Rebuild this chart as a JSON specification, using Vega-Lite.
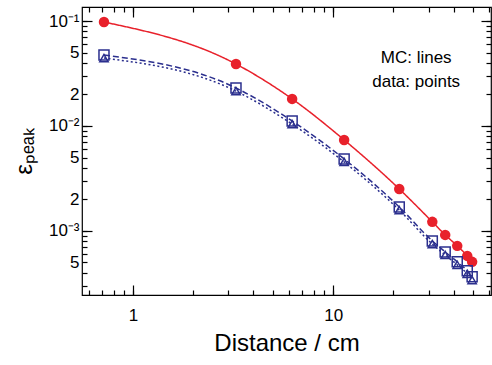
{
  "$schema": "https://vega.github.io/schema/vega-lite/v6.json",
  "width": 409,
  "height": 288,
  "autosize": {"type": "none"},
  "padding": {"left": 82, "top": 7, "right": 1, "bottom": 70},
  "background": "white",
  "config": {
    "view": {"stroke": "black", "strokeWidth": 1.2},
    "axis": {
      "labelFont": "Liberation Sans",
      "titleFont": "Liberation Sans",
      "labelFontSize": 17,
      "titleFontSize": 24,
      "titleFontWeight": "normal",
      "labelColor": "black",
      "titleColor": "black",
      "tickColor": "black",
      "tickWidth": 1.2,
      "domain": false,
      "grid": false
    }
  },
  "datasets": {
    "pts": [
      {"series": "c", "d": 0.716, "e": 0.0978},
      {"series": "c", "d": 3.27, "e": 0.0389},
      {"series": "c", "d": 6.24, "e": 0.0181},
      {"series": "c", "d": 11.35, "e": 0.00736},
      {"series": "c", "d": 21.4, "e": 0.00251},
      {"series": "c", "d": 31.3, "e": 0.00122},
      {"series": "c", "d": 36.3, "e": 0.000916},
      {"series": "c", "d": 41.7, "e": 0.00072},
      {"series": "c", "d": 46.8, "e": 0.000578},
      {"series": "c", "d": 49.5, "e": 0.000507},
      {"series": "s", "d": 0.716, "e": 0.0474},
      {"series": "s", "d": 3.27, "e": 0.023},
      {"series": "s", "d": 6.24, "e": 0.01115},
      {"series": "s", "d": 11.35, "e": 0.00485},
      {"series": "s", "d": 21.4, "e": 0.00169},
      {"series": "s", "d": 31.3, "e": 0.000803},
      {"series": "s", "d": 36.3, "e": 0.000631},
      {"series": "s", "d": 41.7, "e": 0.000507},
      {"series": "s", "d": 46.8, "e": 0.000416},
      {"series": "s", "d": 49.5, "e": 0.000365},
      {"series": "t", "d": 0.716, "e": 0.0444},
      {"series": "t", "d": 3.27, "e": 0.0215},
      {"series": "t", "d": 6.24, "e": 0.0104},
      {"series": "t", "d": 11.35, "e": 0.00454},
      {"series": "t", "d": 21.4, "e": 0.00158},
      {"series": "t", "d": 31.3, "e": 0.00075},
      {"series": "t", "d": 36.3, "e": 0.00059},
      {"series": "t", "d": 41.7, "e": 0.000475},
      {"series": "t", "d": 46.8, "e": 0.00039},
      {"series": "t", "d": 49.5, "e": 0.00034}
    ]
  },
  "resolve": {"axis": {"x": "independent", "y": "independent"}},
  "layer": [
    {
      "data": {"name": "pts"},
      "mark": {"type": "line", "interpolate": "monotone", "strokeWidth": 1.5},
      "encoding": {
        "x": {
          "field": "d", "type": "quantitative",
          "scale": {"type": "log", "domain": [0.556, 61.5], "nice": false},
          "axis": {
            "orient": "bottom", "title": "Distance / cm",
            "values": [0.6,0.7,0.8,0.9,1,2,3,4,5,6,7,8,9,10,20,30,40,50,60],
            "labelExpr": "abs(datum.value-1)<1e-9 ? '1' : abs(datum.value-10)<1e-9 ? '10' : ''",
            "tickSize": -5, "labelPadding": 17, "titlePadding": 8, "labelFlush": false, "labelOverlap": false
          }
        },
        "y": {
          "field": "e", "type": "quantitative",
          "scale": {"type": "log", "domain": [0.000245, 0.136], "nice": false},
          "axis": {
            "orient": "left", "title": "εₚₑₐₖ",
            "values": [0.0003,0.0004,0.0005,0.0006,0.0007,0.0008,0.0009,0.001,0.002,0.003,0.004,0.005,0.006,0.007,0.008,0.009,0.01,0.02,0.03,0.04,0.05,0.06,0.07,0.08,0.09,0.1],
            "labelExpr": "abs(datum.value-0.1)<1e-12 ? '10⁻¹' : abs(datum.value-0.01)<1e-12 ? '10⁻²' : abs(datum.value-0.001)<1e-12 ? '10⁻³' : (abs(datum.value-0.05)<1e-12 || abs(datum.value-0.005)<1e-12 || abs(datum.value-0.0005)<1e-12) ? '5' : (abs(datum.value-0.02)<1e-12 || abs(datum.value-0.002)<1e-12) ? '2' : ''",
            "tickSize": -5, "labelPadding": 8, "titlePadding": 12, "labelFlush": false, "labelOverlap": false
          }
        },
        "color": {
          "field": "series", "type": "nominal",
          "scale": {"domain": ["c","s","t"], "range": ["#e8212b","#2b2f8e","#2b2f8e"]},
          "legend": null
        },
        "strokeDash": {
          "field": "series", "type": "nominal",
          "scale": {"domain": ["c","s","t"], "range": [[1,0],[6,3],[2,2.5]]},
          "legend": null
        }
      }
    },
    {
      "data": {"name": "pts"},
      "transform": [{"filter": "datum.series == 'c'"}],
      "mark": {"type": "point", "shape": "circle", "filled": true, "size": 110, "color": "#e8212b", "opacity": 1},
      "encoding": {
        "x": {
          "field": "d", "type": "quantitative",
          "scale": {"type": "log", "domain": [0.556, 61.5], "nice": false},
          "axis": {"orient": "bottom", "values": [1,10], "tickSize": -10, "labels": false, "title": null}
        },
        "y": {
          "field": "e", "type": "quantitative",
          "scale": {"type": "log", "domain": [0.000245, 0.136], "nice": false},
          "axis": {"orient": "left", "values": [0.001,0.01,0.1], "tickSize": -10, "labels": false, "title": null}
        }
      }
    },
    {
      "data": {"name": "pts"},
      "transform": [{"filter": "datum.series == 's'"}],
      "mark": {"type": "point", "shape": "square", "filled": false, "size": 100, "color": "#2b2f8e", "strokeWidth": 1.5, "opacity": 1},
      "encoding": {
        "x": {
          "field": "d", "type": "quantitative",
          "scale": {"type": "log", "domain": [0.556, 61.5], "nice": false},
          "axis": {"orient": "top", "values": [0.6,0.7,0.8,0.9,1,2,3,4,5,6,7,8,9,10,20,30,40,50,60], "tickSize": -5, "labels": false, "title": null}
        },
        "y": {
          "field": "e", "type": "quantitative",
          "scale": {"type": "log", "domain": [0.000245, 0.136], "nice": false},
          "axis": {"orient": "right", "values": [0.0003,0.0004,0.0005,0.0006,0.0007,0.0008,0.0009,0.001,0.002,0.003,0.004,0.005,0.006,0.007,0.008,0.009,0.01,0.02,0.03,0.04,0.05,0.06,0.07,0.08,0.09,0.1], "tickSize": -5, "labels": false, "title": null}
        }
      }
    },
    {
      "data": {"name": "pts"},
      "transform": [{"filter": "datum.series == 't'"}],
      "mark": {"type": "point", "shape": "triangle-up", "filled": false, "size": 70, "color": "#2b2f8e", "strokeWidth": 1.5, "opacity": 1},
      "encoding": {
        "x": {
          "field": "d", "type": "quantitative",
          "scale": {"type": "log", "domain": [0.556, 61.5], "nice": false},
          "axis": {"orient": "top", "values": [1,10], "tickSize": -10, "labels": false, "title": null}
        },
        "y": {
          "field": "e", "type": "quantitative",
          "scale": {"type": "log", "domain": [0.000245, 0.136], "nice": false},
          "axis": {"orient": "right", "values": [0.001,0.01,0.1], "tickSize": -10, "labels": false, "title": null}
        }
      }
    },
    {
      "data": {"values": [
        {"label": "MC: lines", "d": 26, "e": 0.0444},
        {"label": "data: points", "d": 26, "e": 0.0265}
      ]},
      "mark": {"type": "text", "font": "Liberation Sans", "fontSize": 17, "color": "black", "align": "center", "baseline": "middle"},
      "encoding": {
        "x": {"field": "d", "type": "quantitative", "scale": {"type": "log", "domain": [0.556, 61.5], "nice": false}, "axis": null},
        "y": {"field": "e", "type": "quantitative", "scale": {"type": "log", "domain": [0.000245, 0.136], "nice": false}, "axis": null},
        "text": {"field": "label"}
      }
    }
  ]
}
